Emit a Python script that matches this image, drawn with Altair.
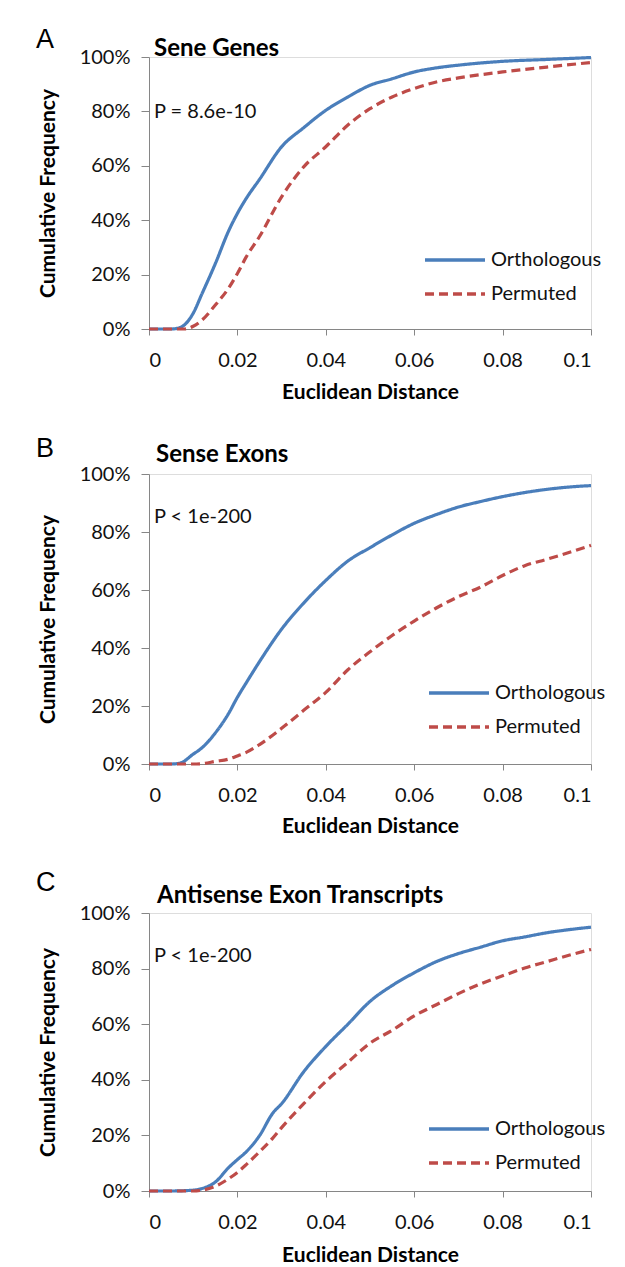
import altair as alt
import pandas as pd

# ---------------- data ----------------
xA = [0, 0.005, 0.007, 0.008, 0.01, 0.012, 0.015, 0.018, 0.02, 0.022, 0.025, 0.03,
      0.035, 0.04, 0.045, 0.05, 0.055, 0.06, 0.065, 0.07, 0.08, 0.09, 0.1]
orthoA = [0, 0, 0.5, 1.5, 5.8, 13, 24, 36, 42.5, 48, 55, 67,
          74, 80.4, 85.3, 89.6, 92, 94.5, 96, 97, 98.4, 99.1, 99.8]
permA = [0, 0, 0, 0, 1, 3.3, 8.8, 15, 20.4, 26.5, 34, 48.6,
         59.6, 67, 75, 81, 85.3, 88.4, 90.8, 92.3, 94.5, 96.3, 98]

xB = [0, 0.005, 0.007, 0.01, 0.012, 0.015, 0.018, 0.02, 0.022, 0.025, 0.03, 0.035,
      0.04, 0.045, 0.05, 0.055, 0.06, 0.065, 0.07, 0.075, 0.08, 0.085, 0.09, 0.095, 0.1]
orthoB = [0, 0, 0.3, 3.4, 5.6, 10.7, 17.4, 23, 28, 35.3, 46.5, 55.5,
          63.3, 70, 74.6, 79, 83, 86, 88.6, 90.5, 92.2, 93.6, 94.7, 95.5, 96]
permB = [0, 0, 0, 0, 0.1, 0.9, 1.7, 2.8, 4, 6.7, 12.3, 18.5,
         24.7, 32.5, 38.7, 44.3, 49.3, 53.8, 57.7, 61, 65, 68.4, 70.6, 72.9, 75.4]

xC = [0, 0.005, 0.01, 0.012, 0.015, 0.018, 0.02, 0.022, 0.025, 0.028, 0.03, 0.035,
      0.04, 0.045, 0.05, 0.055, 0.06, 0.065, 0.07, 0.075, 0.08, 0.085, 0.09, 0.095, 0.1]
orthoC = [0, 0, 0.3, 0.9, 3.2, 8.4, 11.3, 14.1, 19.9, 28, 31.4, 42.9,
          52, 60, 68.2, 73.9, 78.5, 82.5, 85.4, 87.7, 90, 91.4, 92.9, 94, 94.9]
permC = [0, 0, 0, 0.3, 1.7, 4.4, 6.7, 9.5, 14.1, 19, 22.8, 31.4,
         39.4, 46.3, 53.2, 57.8, 63, 67, 71, 74.5, 77.4, 80.2, 82.5, 84.8, 86.9]

series_names = ["Orthologous", "Permuted"]
x_ticks = [0, 0.02, 0.04, 0.06, 0.08, 0.1]
y_ticks = [0, 0.2, 0.4, 0.6, 0.8, 1.0]

BLUE = "#4A7EBB"
RED = "#BE4B48"
AXIS = "#868686"
FONT = "Lato"


def legend(leg_x, leg_y):
    return alt.Legend(title=None, orient="none", legendX=leg_x, legendY=leg_y,
                      symbolType="stroke", symbolSize=3600,
                      symbolStrokeWidth=3.5, labelFont=FONT,
                      labelFontSize=20, labelColor="#111",
                      labelOffset=4, clipHeight=20, rowPadding=14)


def make_panel(xs, ortho, perm, letter, title, ptext, height,
               letter_y, title_x, title_y, p_y, leg_x, leg_y, x_title_pad):
    rows = []
    for x, o in zip(xs, ortho):
        rows.append({"x": x, "y": o / 100.0, "series": series_names[0]})
    for x, p in zip(xs, perm):
        rows.append({"x": x, "y": p / 100.0, "series": series_names[1]})
    df = pd.DataFrame(rows)

    lines = alt.Chart(df).mark_line(strokeWidth=3.2, interpolate="monotone").encode(
        x=alt.X("x:Q", scale=alt.Scale(domain=[0, 0.1], nice=False),
                axis=alt.Axis(values=x_ticks, title="Euclidean Distance",
                              labelExpr="datum.value == 0 ? '0' : datum.value == 0.1 ? '0.1' : format(datum.value, '.2f')",
                              grid=False, domainColor=AXIS, tickColor=AXIS,
                              tickSize=6, labelPadding=15, labelFontSize=20,
                              labelFont=FONT, labelColor="#111",
                              titleFont=FONT, titleFontSize=21, titleFontWeight="bold",
                              titlePadding=x_title_pad, titleColor="#000")),
        y=alt.Y("y:Q", scale=alt.Scale(domain=[0, 1], nice=False),
                axis=alt.Axis(values=y_ticks, format=".0%", title="Cumulative Frequency",
                              grid=False, domainColor=AXIS, tickColor=AXIS,
                              tickSize=8, labelPadding=11, labelFontSize=20,
                              labelFont=FONT, labelColor="#111",
                              titleFont=FONT, titleFontSize=21, titleFontWeight="bold",
                              titlePadding=21, titleColor="#000")),
        color=alt.Color("series:N", scale=alt.Scale(domain=series_names, range=[BLUE, RED]),
                        legend=legend(leg_x, leg_y)),
        strokeDash=alt.StrokeDash("series:N",
                                  scale=alt.Scale(domain=series_names, range=[[1, 0], [9, 5]]),
                                  legend=legend(leg_x, leg_y)),
    )

    letter_t = alt.Chart(pd.DataFrame({"t": [letter]})).mark_text(
        font="Liberation Sans", fontSize=27, align="left", baseline="alphabetic", color="#000"
    ).encode(text="t:N", x=alt.value(-113), y=alt.value(letter_y))
    title_t = alt.Chart(pd.DataFrame({"t": [title]})).mark_text(
        font=FONT, fontSize=24, fontWeight="bold", align="left", baseline="alphabetic", color="#000"
    ).encode(text="t:N", x=alt.value(title_x), y=alt.value(title_y))
    p_t = alt.Chart(pd.DataFrame({"t": [ptext]})).mark_text(
        font=FONT, fontSize=20, align="left", baseline="middle", color="#111"
    ).encode(text="t:N", x=alt.value(5), y=alt.value(p_y))

    return alt.layer(lines, letter_t, title_t, p_t).properties(width=442, height=height)


pA = make_panel(xA, orthoA, permA, "A", "Sene Genes", "P = 8.6e-10", 272,
                -9, 5, -1, 55, 274, 193, 11)
pB = make_panel(xB, orthoB, permB, "B", "Sense Exons", "P < 1e-200", 290,
                -17, 7, -12, 43, 278, 209, 10)
pC = make_panel(xC, orthoC, permC, "C", "Antisense Exon Transcripts", "P < 1e-200", 278,
                -22, 8, -10, 43, 278, 206, 12)

chart = alt.vconcat(pA, pB, pC, spacing=31).resolve_legend(
    color="independent", strokeDash="independent"
).resolve_scale(color="independent", strokeDash="independent").properties(
    padding={"left": 27, "top": 17, "right": 5, "bottom": 5}
).configure_view(stroke=None).configure(background="white")

chart.save("out.html", embed_options={"renderer": "svg", "actions": False})
